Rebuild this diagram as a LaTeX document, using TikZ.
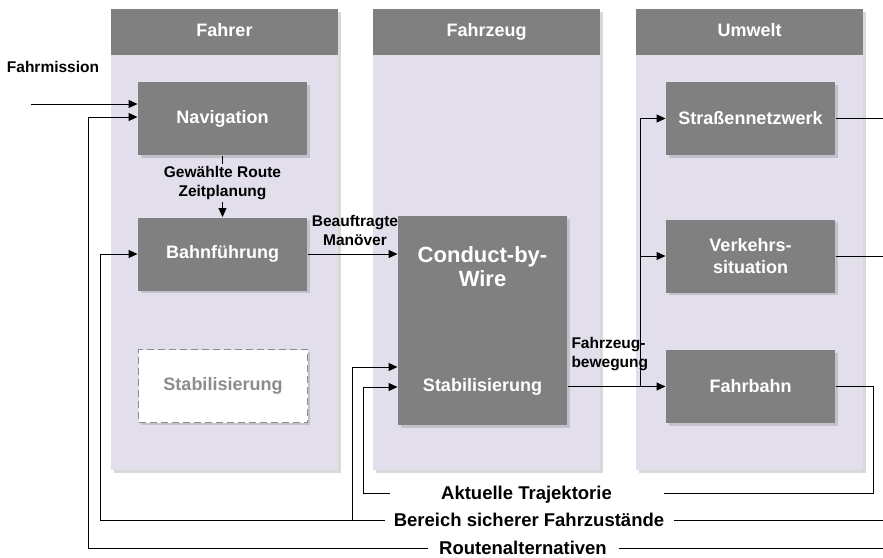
\documentclass[tikz,border=0pt]{standalone}
\usepackage{fontspec}
\setmainfont{Liberation Sans}
\usetikzlibrary{arrows.meta,shadows}
\definecolor{lila}{RGB}{227,222,235}
\definecolor{grau}{RGB}{128,128,128}
\definecolor{hellgrau}{RGB}{140,140,140}

\begin{document}
\begin{tikzpicture}[x=1pt,y=-1pt,line width=1pt,
  schatten/.style={drop shadow={shadow xshift=2.5pt,shadow yshift=-2.5pt,opacity=0.3}},
  spalte/.style={fill=lila,minimum width=227pt,minimum height=461pt,inner sep=0pt,schatten},
  kopf/.style={fill=grau,text=white,minimum width=227pt,minimum height=46pt,inner sep=0pt,text height=13pt,text depth=4pt,font=\bfseries\fontsize{18}{21}\selectfont},
  block/.style={fill=grau,text=white,minimum width=169pt,minimum height=73pt,inner sep=0pt,align=center,font=\bfseries\fontsize{18}{22}\selectfont,schatten},
  leer/.style={block,fill=white,draw=hellgrau,dash pattern=on 7pt off 4pt,line width=1.4pt,text=hellgrau},
  btext/.style={text=white,font=\bfseries\fontsize{18}{22}\selectfont},
  etikett/.style={align=center,inner sep=2pt,font=\bfseries\fontsize{15.5}{19}\selectfont},
  unten/.style={inner sep=0pt,text height=13pt,text depth=1pt,font=\bfseries\fontsize{18.5}{21}\selectfont},
  pfeil/.style={-{Triangle[length=9pt,width=8pt]}}]
\useasboundingbox (0,0) rectangle (883,557);

% Spalten
\node[spalte] (fahrer) at (224.5,239.5) {};
\node[spalte] (fahrzeug) at (486.5,239.5) {};
\node[spalte] (umwelt) at (749.5,239.5) {};
\node[kopf] (fahrerkopf) at (224.5,32) {Fahrer};
\node[kopf] (fahrzeugkopf) at (486.5,32) {Fahrzeug};
\node[kopf] (umweltkopf) at (749.5,32) {Umwelt};

% Bloecke
\node[block] (nav) at (222.5,118.5) {Navigation};
\node[block] (bahn) at (222.5,254) {Bahnführung};
\node[leer] (stabf) at (223,386) {Stabilisierung};
\node[block,minimum height=209pt] (cbw) at (482.5,320.5) {};
\node[btext,align=center,font=\bfseries\fontsize{22}{24}\selectfont] (cbwtitel) at (482.5,267) {Conduct-by-\\Wire};
\node[btext] (cbwstab) at (482.5,387) {Stabilisierung};
\node[block] (strasse) at (750.5,118.5) {Straßennetzwerk};
\node[block] (verkehr) at (750.5,256) {Verkehrs-\\situation};
\node[block] (fahrbahn) at (750.5,386.5) {Fahrbahn};

% Beschriftungen
\node[etikett] (mission) at (53,67) {Fahrmission};
\node[etikett] (wahl) at (222.5,183) {Gewählte Route\\Zeitplanung};
\node[etikett,inner sep=0pt] (manoever) at (355,230) {Beauftragte\\Manöver};
\node[etikett,align=left,anchor=west,inner sep=0pt] (bewegung) at (571,354) {Fahrzeug-\\bewegung};
\node[unten,minimum width=273pt] (aktuell) at (526.5,493) {Aktuelle Trajektorie};
\node[unten,minimum width=288pt] (bereich) at (529,520) {Bereich sicherer Fahrzustände};
\node[unten,minimum width=190pt] (routen) at (523,548) {Routenalternativen};

\coordinate (start) at (31,104);
\coordinate (r1) at (88,117);
\coordinate (r2) at (900,548);
\coordinate (b1) at (100,254);
\coordinate (b2) at (352,367);
\coordinate (b3) at (895,520);
\coordinate (a1) at (363,387);
\coordinate (a2) at (873,493);
\coordinate (abzw) at (640,386.5);

% Verbindungen
\draw[pfeil] (start) -- (start -| nav.west);
\draw (nav.south) -- (wahl.north);
\draw[pfeil] (wahl.south) -- (bahn.north);
\draw[pfeil] (bahn.east) -- (bahn.east -| cbw.west);
\draw[pfeil] (cbw.east |- fahrbahn.west) -- (fahrbahn.west);
\draw[pfeil] (abzw) |- (strasse.west);
\draw[pfeil] (abzw |- verkehr.west) -- (verkehr.west);

% Rueckfuehrungen
\draw (fahrbahn.east) -| (a2) -- (aktuell.east);
\draw[pfeil] (aktuell.west) -| (a1) -- (a1 -| cbw.west);
\draw (verkehr.east) -| (b3) -- (bereich.east);
\draw[pfeil] (bereich.west) -| (b2) -- (b2 -| cbw.west);
\draw[pfeil] (bereich.west) -| (b1) -- (b1 -| bahn.west);
\draw (strasse.east) -| (r2) -- (routen.east);
\draw[pfeil] (routen.west) -| (r1) -- (r1 -| nav.west);
\end{tikzpicture}
\end{document}
